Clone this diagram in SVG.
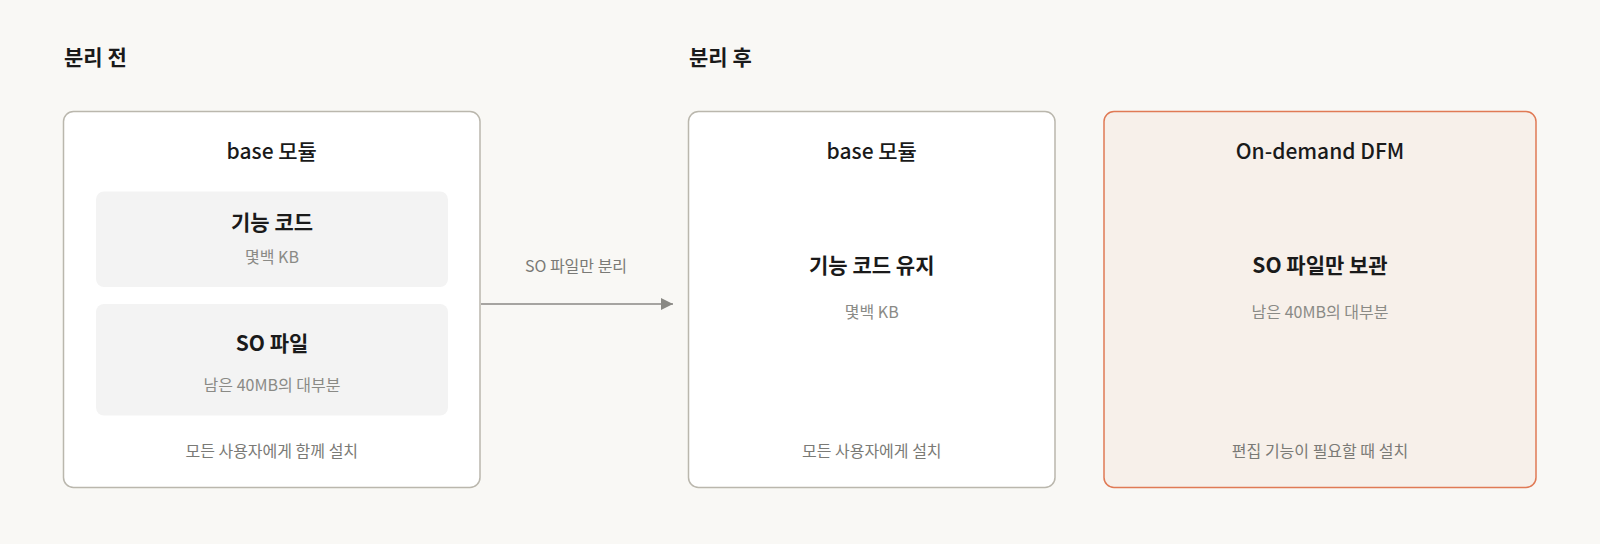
<svg xmlns="http://www.w3.org/2000/svg" width="1600" height="544" viewBox="0 0 1600 544">
<defs>
<style>
text{font-family:"Noto Sans CJK KR","Noto Sans",sans-serif;}
.sec{font-size:21px;font-weight:700;fill:#1a1a1a;}
.title{font-size:21px;font-weight:500;fill:#1a1a1a;text-anchor:middle;}
.main{font-size:21px;font-weight:700;fill:#1a1a1a;text-anchor:middle;}
.sub{font-size:16px;fill:#8a8a86;text-anchor:middle;}
.foot{font-size:16px;fill:#7a7a76;text-anchor:middle;}
.edge{font-size:16px;fill:#7a7a76;text-anchor:middle;}
.box{fill:#ffffff;stroke:#bab7ad;stroke-width:1.5;}
.inner{fill:#f3f3f3;}
.hl{fill:#f7f0ea;stroke:#e07a55;stroke-width:1.5;}
</style>
<marker id="arr" viewBox="0 0 10 10" refX="10" refY="5" markerWidth="15" markerHeight="12" markerUnits="userSpaceOnUse" orient="auto">
<path d="M0,0 L10,5 L0,10 z" fill="#8a8984"/>
</marker>
</defs>
<rect width="1600" height="544" fill="#f9f8f5"/>
<g id="section-before"><text class="sec" x="64" y="65">분리 전</text></g>
<g id="section-after"><text class="sec" x="689" y="65">분리 후</text></g>

<g id="base-before">
<rect class="box" x="63.5" y="111.5" width="416.5" height="376" rx="10"/>
<text class="title" x="271.75" y="159">base 모듈</text>
<text class="foot" x="271.75" y="457">모든 사용자에게 함께 설치</text>
</g>
<g id="feature-code">
<rect class="inner" x="96" y="191.5" width="352" height="95.5" rx="8"/>
<text class="main" x="272" y="230">기능 코드</text>
<text class="sub" x="272" y="263">몇백 KB</text>
</g>
<g id="so-file">
<rect class="inner" x="96" y="304" width="352" height="111.5" rx="8"/>
<text class="main" x="272" y="351">SO 파일</text>
<text class="sub" x="272" y="391">남은 40MB의 대부분</text>
</g>

<g id="connectors">
<line x1="481" y1="304" x2="673" y2="304" stroke="#8a8984" stroke-width="1.5" marker-end="url(#arr)"/>
<text class="edge" x="576" y="272">SO 파일만 분리</text>
</g>

<g id="base-after">
<rect class="box" x="688.5" y="111.5" width="366.5" height="376" rx="10"/>
<text class="title" x="871.75" y="159">base 모듈</text>
<text class="main" x="871.75" y="273">기능 코드 유지</text>
<text class="sub" x="871.75" y="318">몇백 KB</text>
<text class="foot" x="871.75" y="457">모든 사용자에게 설치</text>
</g>

<g id="on-demand-dfm">
<rect class="hl" x="1104" y="111.5" width="432" height="376" rx="10"/>
<text class="title" x="1320" y="159">On-demand DFM</text>
<text class="main" x="1320" y="273">SO 파일만 보관</text>
<text class="sub" x="1320" y="318">남은 40MB의 대부분</text>
<text class="foot" x="1320" y="457">편집 기능이 필요할 때 설치</text>
</g>
</svg>
